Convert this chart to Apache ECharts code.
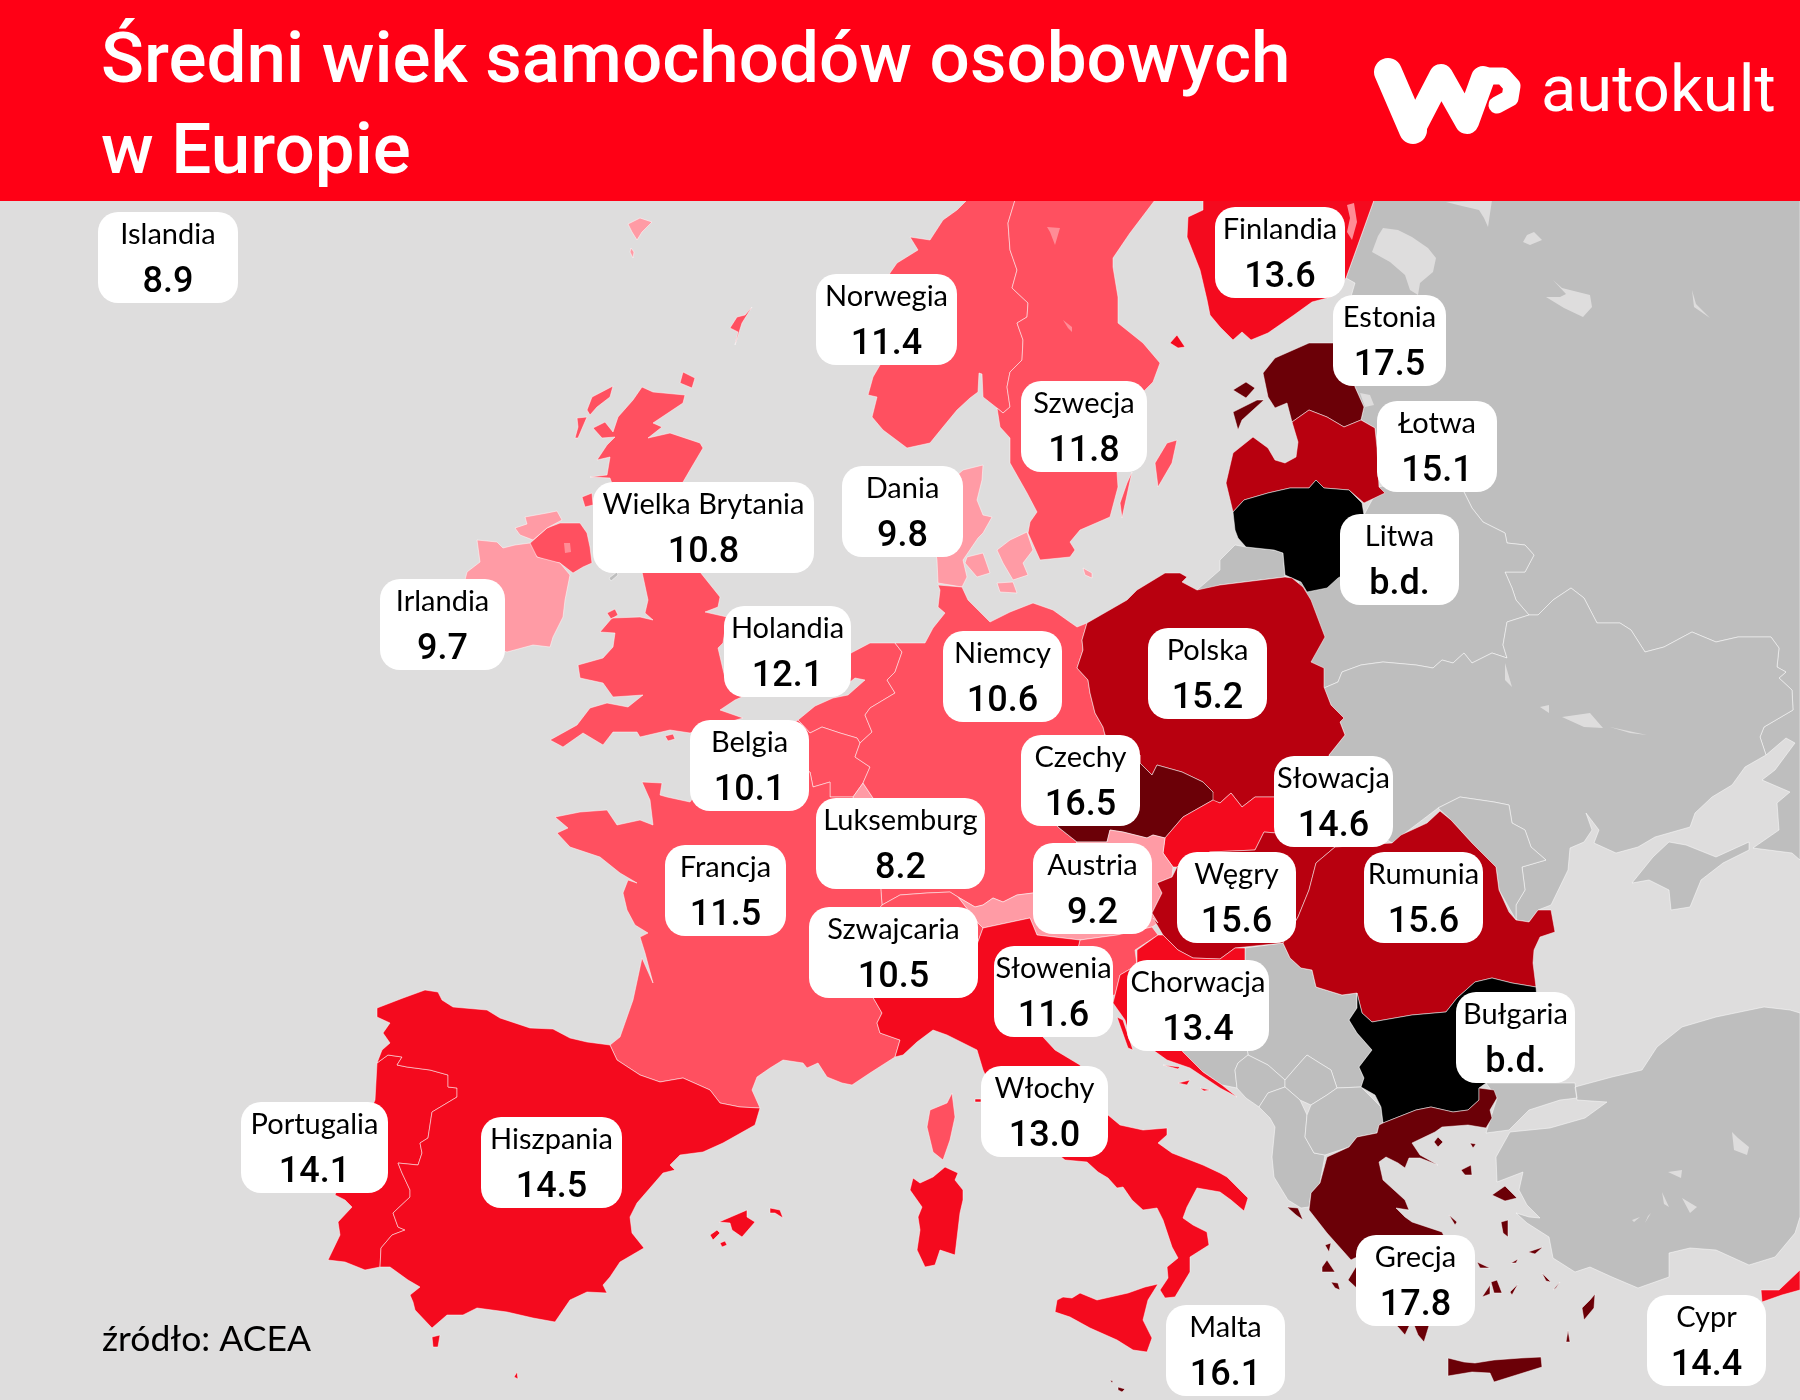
<!DOCTYPE html>
<html><head><meta charset="utf-8">
<style>html,body{margin:0;padding:0;background:#dedddd}#c{width:1800px;height:1400px}</style>
<script src="https://cdn.jsdelivr.net/npm/echarts@6/dist/echarts.min.js"></script>
</head><body><div id="c"></div>
<script>
// DATA --------------------------------------------------------------
const countries = ['Islandia','Norwegia','Szwecja','Finlandia','Estonia','Łotwa','Litwa','Dania','Wielka Brytania','Irlandia','Holandia','Belgia','Niemcy','Polska','Czechy','Słowacja','Luksemburg','Austria','Węgry','Rumunia','Francja','Szwajcaria','Słowenia','Chorwacja','Włochy','Bułgaria','Grecja','Malta','Cypr','Portugalia','Hiszpania'];
const avgAge = [8.9,11.4,11.8,13.6,17.5,15.1,null,9.8,10.8,9.7,12.1,10.1,10.6,15.2,16.5,14.6,8.2,9.2,15.6,15.6,11.5,10.5,11.6,13.4,13.0,null,17.8,16.1,14.4,14.1,14.5];
const noDataLabel = 'b.d.';
const titleText = 'Średni wiek samochodów osobowych\nw Europie';
const sourceText = 'źródło: ACEA';
const brandText = 'autokult';
// value bands -> colours
const bandLimits = [10,13,15,16,Infinity];
const bandColors = ['#ff9ba5','#ff5060','#f40a1e','#b8000f','#6b0007'];
const noDataColor = '#000000';
const otherLand = '#bebebe', sea = '#dedddd', red = '#ff0015', lakePink = '#ff8c96';
const otherRegions = ['Rosja','Białoruś','Ukraina','Mołdawia','Krym','Serbia','Bośnia i Hercegowina','Czarnogóra','Kosowo','Albania','Macedonia Północna','Turcja','Wyspa Man','Andora'];
// label box layout: left, top, right (px of the 1800x1400 map space)
const labelBoxes = {Islandia:[98,212,238],Norwegia:[816,274,957],Szwecja:[1021,381,1147],Finlandia:[1215,207,1345],Estonia:[1333,295,1446],'Łotwa':[1377,401,1497],Litwa:[1340,514,1459],Dania:[842,466,963],'Wielka Brytania':[593,482,814],Irlandia:[380,579,505],Holandia:[724,606,851],Belgia:[690,720,809],Niemcy:[943,631,1062],Polska:[1148,628,1267],Czechy:[1021,735,1140],'Słowacja':[1274,756,1393],Luksemburg:[816,798,985],Austria:[1033,843,1152],'Węgry':[1177,852,1296],Rumunia:[1364,852,1483],Francja:[665,845,786],Szwajcaria:[809,907,978],'Słowenia':[994,946,1113],Chorwacja:[1127,960,1269],'Włochy':[981,1066,1108],'Bułgaria':[1456,992,1575],Grecja:[1356,1235,1475],Malta:[1166,1305,1285],Cypr:[1647,1295,1766],Portugalia:[241,1102,388],Hiszpania:[481,1117,622]};
// region outlines in map units (no geojson is reachable offline)
const outlines = {
 'Rosja':['1374,200 1800,200 1800,860 1792,853 1753,848 1779,830 1777,803 1790,792 1762,780 1775,770 1795,743 1786,738 1766,755 1760,737 1764,727 1793,710 1792,690 1779,678 1786,672 1777,667 1779,648 1771,637 1738,637 1716,642 1692,632 1664,647 1645,652 1631,630 1620,623 1597,623 1584,598 1571,588 1553,600 1538,615 1529,615 1516,600 1512,588 1505,572 1525,572 1534,555 1525,545 1507,543 1505,533 1483,522 1472,508 1464,492 1440,470 1377,440 1375,428 1361,420 1364,407 1355,387 1340,360 1345,343 1350,300 1355,283 1346,278',
  '1220,560 1235,545 1246,547 1274,550 1283,553 1285,577 1220,585 1205,590 1197,590 1220,570'],
 'Białoruś':['1379,487 1440,470 1464,492 1472,508 1483,522 1505,533 1507,543 1525,545 1534,555 1525,572 1505,572 1512,588 1516,600 1529,615 1507,622 1503,645 1507,658 1492,653 1472,663 1464,653 1453,663 1442,660 1433,668 1416,665 1383,662 1361,665 1342,672 1338,682 1324,688 1300,640 1290,600 1300,580 1340,570 1364,515'],
 'Ukraina':['1324,688 1338,682 1342,672 1361,665 1383,662 1416,665 1433,668 1442,660 1453,663 1464,653 1472,663 1492,653 1507,658 1503,645 1507,622 1529,615 1538,615 1553,600 1571,588 1584,598 1597,623 1620,623 1631,630 1645,652 1664,647 1692,632 1716,642 1738,637 1771,637 1779,648 1777,667 1786,672 1779,678 1792,690 1793,710 1764,727 1760,737 1766,755 1745,767 1732,785 1712,797 1695,813 1690,827 1655,837 1638,847 1616,853 1594,843 1599,830 1586,813 1592,830 1584,842 1570,848 1568,870 1551,905 1538,910 1529,922 1516,920 1516,905 1525,890 1522,867 1546,860 1531,847 1525,830 1512,823 1509,805 1494,802 1460,797 1438,808 1392,843 1330,800 1329,755 1345,735 1340,722 1344,718 1331,705'],
 'Mołdawia':['1438,808 1460,797 1494,802 1509,805 1512,823 1525,830 1531,847 1546,860 1522,867 1525,890 1516,905 1516,920 1499,890 1496,867 1472,843 1451,820'],
 'Krym':['1632,883 1653,857 1669,842 1686,845 1716,857 1749,842 1749,850 1723,863 1701,880 1690,907 1671,910 1669,890 1649,880'],
 'Serbia':['1245,948 1283,943 1290,958 1301,968 1312,970 1316,987 1342,995 1357,993 1357,1008 1349,1020 1357,1033 1372,1050 1359,1067 1364,1078 1361,1087 1337,1088 1331,1070 1318,1062 1307,1055 1298,1065 1285,1080 1268,1065 1248,1055 1240,990 1245,975'],
 'Bośnia i Hercegowina':['1160,985 1240,990 1248,1055 1238,1063 1235,1070 1237,1088 1222,1085 1203,1072 1183,1052 1150,1010'],
 'Czarnogóra':['1237,1088 1246,1098 1259,1107 1268,1093 1285,1087 1285,1080 1268,1065 1248,1055 1238,1063 1235,1070'],
 'Kosowo':['1285,1080 1298,1065 1307,1055 1318,1062 1331,1070 1337,1088 1327,1095 1311,1105 1300,1100 1285,1087'],
 'Albania':['1259,1107 1270,1118 1275,1127 1272,1157 1274,1177 1288,1200 1301,1208 1309,1207 1311,1193 1320,1183 1325,1155 1314,1153 1305,1137 1307,1115 1300,1100 1285,1087 1268,1093'],
 'Macedonia Północna':['1311,1105 1327,1095 1337,1088 1361,1087 1381,1107 1383,1123 1379,1125 1377,1133 1357,1137 1349,1147 1325,1155 1314,1153 1305,1137 1307,1115'],
 'Turcja':['1486,1083 1575,1083 1577,1098 1560,1100 1529,1110 1509,1130 1486,1133 1497,1098',
  '1575,1087 1612,1077 1642,1070 1657,1047 1682,1027 1716,1017 1764,1007 1790,1010 1800,1013 1800,1217 1795,1233 1775,1257 1749,1265 1716,1250 1690,1248 1669,1253 1669,1277 1638,1288 1612,1277 1590,1267 1575,1272 1553,1258 1549,1237 1527,1223 1516,1213 1529,1217 1540,1218 1527,1205 1519,1190 1523,1172 1497,1182 1496,1157 1510,1132 1550,1128 1585,1118 1607,1102 1577,1100'],
 'Wyspa Man':['609,578 617,572 618,575 611,581'],
 'Andora':['704,1091 710,1090 713,1094 709,1099 704,1097'],
 'Islandia':['130,240 200,240 200,280 130,280'],
 'Norwegia':['967,200 1015,200 1008,223 1010,250 1017,270 1012,288 1028,303 1027,317 1017,323 1023,340 1022,360 1010,372 1007,387 1010,407 1003,413 997,408 983,397 982,374 979,373 978,392 970,398 957,410 943,427 930,443 907,448 883,430 872,417 877,397 868,395 873,377 880,365 870,320 890,273 897,263 918,250 910,237 930,240 943,220 957,210'],
 'Szwecja':['1015,200 1155,200 1130,233 1113,258 1113,267 1118,297 1118,323 1143,343 1160,363 1153,382 1143,392 1130,420 1117,472 1118,487 1110,517 1080,530 1070,542 1075,550 1070,557 1040,560 1028,533 1030,522 1037,512 1027,493 1010,463 1010,438 1000,427 997,408 1003,413 1010,407 1007,387 1010,372 1022,360 1023,340 1017,323 1027,317 1028,303 1012,288 1017,270 1010,250 1008,223',
  '1132,472 1122,518 1120,503 1127,483','1177,440 1167,443 1155,463 1158,487 1172,463'],
 'Finlandia':['1203,200 1374,200 1346,278 1331,297 1312,302 1294,315 1268,333 1251,340 1242,332 1233,340 1220,327 1210,315 1207,300 1200,270 1187,237 1188,217 1203,210',
  '1170,343 1177,335 1185,347 1178,348'],
 'Estonia':['1309,410 1292,422 1287,403 1275,408 1268,397 1263,373 1275,358 1309,343 1345,343 1355,387 1364,407 1361,420 1344,427 1327,417',
  '1233,412 1257,400 1264,400 1242,420 1238,430','1233,390 1246,382 1255,388 1246,398'],
 'Łotwa':['1233,512 1226,483 1233,453 1253,437 1268,448 1275,460 1285,463 1296,457 1298,442 1292,422 1309,410 1327,417 1344,427 1361,420 1375,428 1377,448 1379,487 1385,493 1364,503 1349,490 1324,488 1316,480 1309,488 1290,488 1268,493 1244,500'],
 'Litwa':['1233,512 1244,500 1268,493 1290,488 1309,488 1316,480 1324,488 1349,490 1362,503 1364,515 1370,560 1338,578 1327,588 1307,592 1301,582 1285,575 1283,553 1274,550 1246,547 1238,538 1235,530'],
 'Dania':['983,465 982,480 977,500 983,515 992,517 983,533 978,538 963,560 967,577 962,587 938,583 937,560 930,520 940,490 963,470',
  '967,557 983,553 990,573 977,577 965,563','997,550 1010,540 1027,532 1033,550 1023,563 1028,575 1013,580 1003,563','997,583 1013,582 1017,593 1000,592','1083,568 1092,573 1092,578 1085,575','628,224 640,218 652,222 642,232 637,240 632,232','631,248 634,252 633,258 630,252'],
 'Wielka Brytania':['642,387 653,392 685,395 683,403 653,423 662,427 648,438 670,433 700,443 703,448 690,470 683,482 700,572 720,597 718,607 705,612 727,617 723,643 718,648 725,678 742,697 735,700 720,710 743,718 690,733 670,730 640,737 637,732 613,732 603,745 583,733 563,747 550,740 577,725 590,708 607,703 628,707 643,695 613,697 603,683 580,678 578,665 603,658 613,647 615,633 600,632 612,618 640,617 653,620 645,613 648,600 642,572 625,520 610,478 590,477 607,475 610,457 597,460 607,445 615,437 602,438 593,428 605,422 613,432 618,417 633,400',
  '560,523 580,523 587,533 590,547 592,563 583,567 573,573 560,563 550,562 537,557 528,545 547,528',
  '582,497 592,493 593,505 585,507','592,397 613,386 610,397 597,407 590,415 587,410','577,418 587,417 578,438 575,438 578,427','683,372 695,378 692,388 680,383','752,307 742,323 735,345 738,332 730,328 737,317 745,315','607,613 615,609 618,615 611,619','665,736 673,734 675,739 668,741'],
 'Irlandia':['477,540 497,542 503,548 515,545 530,543 537,557 560,563 570,575 565,600 563,617 553,637 550,647 533,645 507,652 470,640 460,600 467,572 480,562',
  '515,528 527,524 525,517 547,513 557,511 562,520 547,528 533,540 520,535'],
 'Holandia':['851,653 870,643 895,643 902,652 895,672 887,680 895,693 870,708 865,715 872,732 860,743 857,738 840,733 822,727 810,733 798,720 815,706 833,698 848,695 865,680 855,678 840,690 830,680'],
 'Belgia':['775,735 798,720 810,733 822,727 840,733 857,738 860,743 855,757 870,767 863,783 853,797 830,797 830,782 813,787 810,772 725,755'],
 'Luksemburg':['853,797 863,783 873,798 870,815 855,815'],
 'Niemcy':['895,643 925,643 933,628 945,613 938,607 940,590 938,585 962,587 968,600 978,610 990,622 1010,612 1033,603 1053,610 1067,620 1077,627 1087,623 1082,640 1083,650 1077,668 1088,680 1090,693 1095,713 1103,727 1105,735 1080,750 1045,775 1040,800 1058,827 1077,842 1060,870 1033,893 1017,895 1003,902 993,898 983,905 975,907 958,897 950,892 927,893 900,895 882,905 878,850 870,815 873,798 863,783 870,767 855,757 860,743 872,732 865,715 870,708 895,693 887,680 895,672 902,652'],
 'Polska':['1087,623 1127,600 1137,590 1165,573 1180,573 1187,577 1182,582 1197,590 1220,585 1285,577 1292,578 1303,587 1311,600 1325,637 1311,662 1324,668 1324,687 1331,705 1344,718 1340,722 1345,735 1329,755 1330,797 1274,797 1255,797 1242,807 1231,793 1220,803 1210,800 1213,792 1203,782 1182,772 1157,765 1152,775 1140,763 1140,755 1105,735 1103,727 1095,713 1090,693 1088,680 1077,668 1083,650 1082,640'],
 'Czechy':['1105,735 1140,755 1140,763 1152,775 1157,765 1182,772 1203,782 1213,792 1213,800 1183,817 1165,838 1153,835 1147,838 1123,832 1110,830 1107,842 1077,842 1058,827 1040,800 1045,775 1080,750'],
 'Słowacja':['1213,800 1220,803 1231,793 1242,807 1255,797 1274,797 1330,797 1335,847 1300,835 1264,832 1255,850 1210,852 1177,867 1173,867 1163,853 1165,838 1183,817'],
 'Austria':['958,897 975,907 983,905 993,898 1003,902 1017,895 1033,893 1060,870 1077,842 1107,842 1110,830 1123,832 1147,838 1153,835 1165,838 1163,853 1173,867 1172,877 1157,883 1162,893 1152,913 1158,923 1152,927 1117,935 1080,940 1037,935 1030,918 983,928 978,923'],
 'Szwajcaria':['882,905 900,895 927,893 950,892 958,897 978,923 983,928 975,950 950,975 900,985 860,975 840,960 860,930'],
 'Węgry':['1162,893 1157,883 1172,877 1177,867 1210,852 1255,850 1264,832 1300,835 1335,847 1316,863 1309,890 1298,917 1283,943 1235,948 1220,959 1193,958 1178,950 1163,935 1153,918 1158,923 1152,913'],
 'Rumunia':['1335,847 1392,843 1401,835 1427,823 1440,811 1451,820 1472,843 1496,867 1499,890 1509,912 1516,920 1529,922 1538,910 1551,910 1555,932 1540,937 1534,950 1533,963 1536,987 1512,983 1492,978 1475,982 1457,998 1446,1012 1412,1015 1372,1022 1362,1013 1357,993 1342,995 1316,987 1312,970 1301,968 1290,958 1283,943 1298,917 1309,890 1316,863'],
 'Bułgaria':['1357,993 1362,1013 1372,1022 1412,1015 1446,1012 1457,998 1475,982 1492,978 1512,983 1536,987 1540,1040 1486,1083 1479,1088 1479,1100 1468,1110 1453,1112 1431,1107 1416,1110 1383,1123 1381,1107 1375,1095 1361,1087 1364,1078 1359,1067 1372,1050 1357,1033 1349,1020 1357,1008'],
 'Słowenia':['1080,940 1117,935 1152,927 1158,935 1135,950 1137,965 1120,975 1115,995 1090,1000 1075,1000 1070,985 1075,960'],
 'Chorwacja':['1137,950 1158,935 1163,935 1178,950 1193,958 1220,959 1235,948 1245,948 1245,975 1240,990 1160,985 1150,1010 1183,1052 1203,1072 1222,1085 1237,1097 1220,1088 1190,1068 1167,1060 1153,1050 1130,1038 1125,1020 1113,1003 1115,995 1120,975 1137,965',
  '1163,1065 1180,1067 1178,1069','1178,1083 1190,1080 1187,1085','1200,1088 1210,1090 1204,1091','1117,1017 1123,1020 1133,1050 1128,1048'],
 'Francja':['642,782 662,783 660,795 667,797 690,802 725,755 810,772 813,787 830,782 830,797 853,797 855,815 870,815 878,850 882,905 860,930 840,960 860,975 882,1013 877,1023 880,1033 900,1040 895,1057 870,1073 852,1085 842,1083 827,1077 818,1063 807,1068 803,1063 783,1060 770,1068 757,1077 752,1090 760,1108 740,1107 720,1103 710,1090 683,1078 660,1082 640,1075 617,1060 610,1045 620,1037 633,1000 642,958 653,983 645,953 640,937 648,933 635,925 627,910 623,893 628,880 637,883 620,873 600,857 570,847 557,833 568,828 555,817 580,812 607,810 617,825 640,820 653,825 650,800',
  '952,1093 955,1117 950,1140 943,1160 933,1152 927,1127 930,1110 947,1103'],
 'Włochy':['983,928 1030,918 1037,935 1080,940 1075,960 1070,985 1075,1000 1060,1005 1040,1025 1043,1037 1055,1050 1080,1065 1100,1100 1108,1115 1120,1125 1143,1130 1167,1128 1167,1135 1158,1143 1172,1153 1203,1165 1220,1173 1227,1177 1235,1185 1248,1198 1244,1211 1231,1200 1220,1192 1197,1188 1187,1207 1183,1218 1193,1225 1207,1232 1209,1245 1190,1257 1190,1272 1175,1297 1165,1298 1160,1290 1168,1278 1167,1267 1178,1258 1172,1247 1163,1220 1157,1208 1143,1210 1132,1200 1123,1187 1117,1188 1108,1178 1098,1172 1087,1162 1065,1160 1040,1140 990,1085 983,1070 977,1050 967,1045 947,1035 933,1030 917,1042 903,1055 895,1057 900,1040 880,1033 877,1023 882,1013 860,975 900,985 950,975 975,950',
  '945,1167 958,1173 955,1180 963,1190 963,1200 960,1213 955,1255 940,1250 935,1265 925,1267 917,1250 920,1230 918,1217 922,1207 910,1190 913,1178 920,1183 933,1177',
  '1158,1284 1148,1300 1143,1320 1152,1338 1147,1352 1133,1350 1117,1340 1090,1328 1070,1317 1055,1312 1057,1300 1063,1297 1072,1298 1080,1293 1097,1300 1128,1293 1145,1287',
  '975,1099 981,1099 981,1102 975,1102'],
 'Grecja':['1479,1088 1494,1090 1497,1098 1490,1110 1492,1118 1486,1128 1468,1125 1442,1127 1435,1132 1412,1143 1420,1155 1438,1165 1420,1158 1409,1158 1405,1168 1398,1163 1386,1157 1379,1162 1383,1180 1405,1200 1409,1210 1396,1208 1405,1217 1412,1222 1442,1232 1446,1240 1400,1255 1357,1257 1351,1260 1327,1233 1309,1210 1311,1193 1320,1183 1327,1157 1349,1147 1357,1137 1377,1133 1379,1125 1383,1123 1416,1110 1431,1107 1453,1112 1468,1110 1479,1100',
  '1357,1265 1420,1250 1440,1290 1424,1342 1418,1335 1412,1320 1405,1335 1398,1327 1380,1310 1348,1280',
  '1287,1207 1298,1208 1303,1220 1296,1215','1325,1245 1331,1243 1329,1252','1322,1267 1327,1260 1335,1272 1322,1272','1331,1282 1338,1283 1340,1290 1335,1288',
  '1438,1137 1443,1142 1438,1147 1434,1142','1470,1143 1476,1144 1473,1148','1461,1170 1471,1165 1472,1175 1465,1175',
  '1492,1195 1505,1186 1517,1198 1505,1201','1501,1222 1508,1220 1508,1237 1503,1233','1528,1252 1543,1247 1535,1254','1511,1263 1518,1259 1516,1263',
  '1449,1215 1457,1222 1455,1225','1477,1262 1490,1268 1480,1268','1491,1282 1497,1280 1502,1293 1494,1293','1482,1297 1490,1285 1490,1294','1510,1292 1518,1284 1512,1295',
  '1595,1294 1594,1308 1584,1320 1582,1308 1590,1300','1568,1330 1570,1342 1566,1342','1542,1273 1551,1282 1546,1281','1553,1290 1560,1282 1556,1288',
  '1448,1358 1464,1362 1475,1363 1494,1360 1521,1358 1541,1357 1542,1367 1494,1382 1490,1373 1472,1372 1448,1376'],
 'Malta':['1118,1387 1125,1389 1122,1392 1118,1390','1110,1380 1113,1381 1112,1383'],
 'Cypr':['1761,1290 1779,1290 1800,1270 1800,1290 1782,1295 1762,1302'],
 'Portugalia':['377,1063 388,1055 402,1057 397,1065 407,1067 430,1070 448,1075 448,1087 457,1088 457,1097 432,1112 428,1138 420,1143 422,1153 418,1165 398,1163 402,1173 410,1190 410,1197 393,1213 398,1227 405,1230 392,1235 381,1248 380,1267 365,1270 345,1262 328,1260 340,1235 338,1222 352,1207 345,1200 335,1195 375,1100'],
 'Hiszpania':['403,998 425,990 438,992 442,1000 453,1007 487,1010 500,1018 530,1028 553,1029 570,1038 587,1042 610,1045 617,1060 640,1075 660,1082 683,1078 710,1090 720,1103 740,1107 760,1108 755,1125 723,1143 703,1152 680,1155 670,1165 675,1170 663,1173 637,1203 630,1217 632,1233 644,1248 620,1262 610,1277 603,1285 607,1293 587,1292 570,1300 555,1322 533,1318 507,1312 477,1308 463,1315 447,1315 432,1328 415,1310 413,1302 410,1295 420,1287 408,1280 390,1267 380,1267 381,1248 392,1235 405,1230 398,1227 393,1213 410,1197 410,1190 402,1173 398,1163 418,1165 422,1153 420,1143 428,1138 432,1112 457,1097 457,1088 448,1087 448,1075 430,1070 407,1067 397,1065 402,1057 388,1055 377,1063 382,1050 390,1043 383,1033 390,1023 377,1017 377,1008',
  '719,1222 747,1210 747,1217 755,1222 742,1237 732,1230 730,1223','710,1235 717,1230 720,1233 713,1240','720,1243 725,1241 727,1245 722,1247','770,1208 780,1210 783,1218 775,1213 770,1213','432,1337 440,1335 438,1347 433,1347','517,1372 518,1379 514,1377'],
 'Jeziora':['1372,252 1378,236 1383,228 1398,230 1412,237 1428,248 1436,258 1433,272 1420,283 1418,295 1410,290 1405,275 1390,262','1446,202 1492,200 1488,227 1484,218 1479,210 1462,206','1523,242 1527,235 1534,232 1542,240 1530,245','1553,280 1562,288 1590,295 1592,307 1583,317 1564,308 1546,297 1560,297 1566,294','1692,290 1696,304 1710,318 1694,307',
  '1562,717 1590,713 1603,728 1584,727','1610,727 1647,735 1630,733','1540,707 1549,705 1549,713','1505,663 1512,687 1505,680','1360,393 1370,395 1374,405 1365,407',
  '1732,1132 1738,1138 1749,1147 1747,1155 1734,1150','1668,1172 1682,1170 1681,1178','1662,1192 1669,1207 1664,1204','1682,1198 1697,1207 1690,1213','1632,1220 1640,1217 1634,1222','1651,1213 1645,1223 1648,1216'],
 'Jeziora UE':['1047,227 1060,228 1055,245 1050,232','1063,320 1072,327 1072,332 1068,328','1347,205 1354,203 1357,222 1352,240 1347,232 1350,218','564,543 570,543 571,552 565,553']
};

// BUILD -------------------------------------------------------------
const ring = s => { const r = s.trim().split(/\s+/).map(p => p.split(',').map(Number)); r.push(r[0].slice()); return [r]; };
const features = Object.keys(outlines).map(name => ({
  type:'Feature',
  properties:Object.assign({name}, labelBoxes[name] ? {cp:[(labelBoxes[name][0]+labelBoxes[name][2])/2, labelBoxes[name][1]+45.5]} : {}),
  geometry:{type:'MultiPolygon',coordinates:outlines[name].map(ring)}
}));
echarts.registerMap('europa',{type:'FeatureCollection',features});

const bandColor = v => v==null ? noDataColor : bandColors[bandLimits.findIndex(l => v < l)];
const font = 'Lato', heavyFont = 'Roboto';
const seriesData = countries.map((name,i) => ({
  name, value:avgAge[i],
  itemStyle:{areaColor:bandColor(avgAge[i])},
  label:{width:labelBoxes[name][2]-labelBoxes[name][0]}
})).concat(otherRegions.map(name => ({name,value:null,itemStyle:{areaColor:otherLand},label:{show:false}})),
 [{name:'Jeziora',value:null,itemStyle:{areaColor:sea,borderWidth:0},label:{show:false}},
  {name:'Jeziora UE',value:null,itemStyle:{areaColor:lakePink,borderWidth:0},label:{show:false}}]);

const chart = echarts.init(document.getElementById('c'),null,{renderer:'canvas',width:1800,height:1400});
chart.setOption({
  animation:false,
  backgroundColor:sea,
  title:[
    {text:titleText,left:96,top:14,z:8,textStyle:{color:'#fff',fontFamily:heavyFont,fontSize:71,fontWeight:500,lineHeight:91}},
    {text:sourceText,left:97,top:1317,textStyle:{color:'#000',fontFamily:font,fontSize:35.5,fontWeight:400}}
  ],
  graphic:[
    {type:'rect',z:5,shape:{x:0,y:0,width:1800,height:201},style:{fill:red}},
    {type:'polyline',z:7,shape:{points:[[1388,72],[1413,130]]},style:{fill:null,stroke:'#fff',lineWidth:28,lineCap:'round',lineJoin:'round'}},
    {type:'polyline',z:7,shape:{points:[[1413,130],[1441,76],[1467,122],[1483,78]]},style:{fill:null,stroke:'#fff',lineWidth:24,lineCap:'round',lineJoin:'round'}},
    {type:'polyline',z:7,shape:{points:[[1486,76],[1503,76],[1512,86],[1510,98],[1497,105]]},style:{fill:null,stroke:'#fff',lineWidth:17,lineCap:'round',lineJoin:'round'}},
    {type:'text',z:7,x:1541,y:62,style:{text:brandText,fill:'#fff',fontFamily:heavyFont,fontSize:65,fontWeight:400}}
  ],
  series:[{
    type:'map',map:'europa',silent:true,selectedMode:false,
    left:0,top:0,width:1800,height:1400,aspectScale:1,
    projection:{project:p=>[p[0],p[1]],unproject:p=>[p[0],p[1]]},
    boundingCoords:[[0,0],[1800,1400]],
    itemStyle:{borderColor:'rgba(255,255,255,0.7)',borderWidth:0.7},
    label:{show:true,height:91,backgroundColor:'#fff',borderRadius:20,align:'center',verticalAlign:'middle',
      formatter:p=>'{n|'+p.name+'}\n{v|'+(p.value==null||isNaN(p.value)?noDataLabel:p.value.toFixed(1))+'}',
      rich:{n:{fontFamily:font,fontSize:29,lineHeight:45,color:'#000',align:'center'},
            v:{fontFamily:heavyFont,fontSize:36,fontWeight:500,lineHeight:52,color:'#000',align:'center'}}},
    data:seriesData
  }]
});
</script></body></html>
